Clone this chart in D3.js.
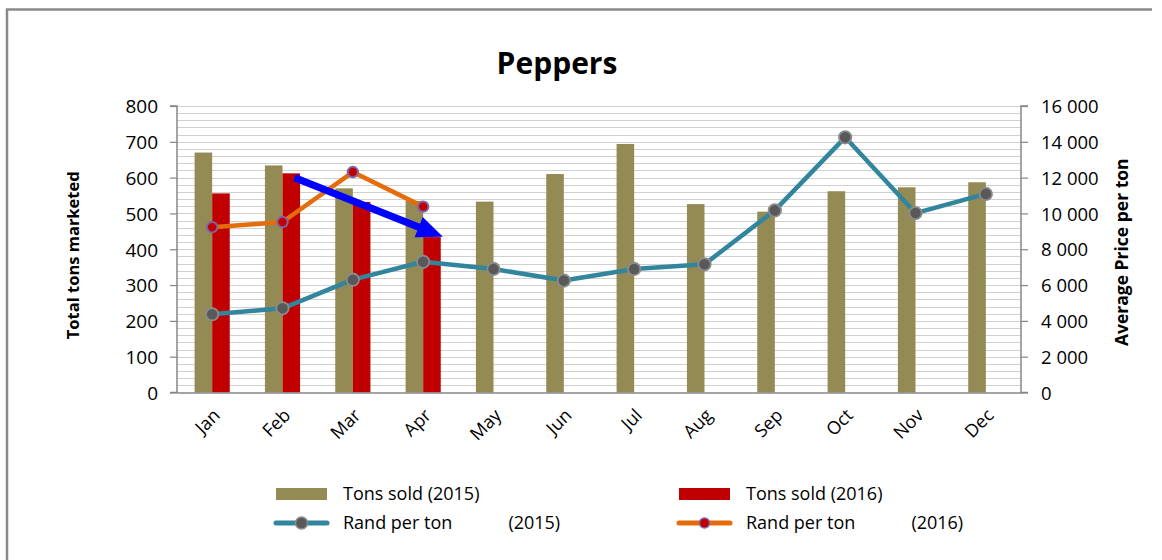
<!DOCTYPE html>
<html>
<head>
<meta charset="utf-8">
<script src="https://cdn.jsdelivr.net/npm/d3@7"></script>
<style>
  html, body { margin: 0; padding: 0; background: #fff; }
  svg text { font-family: "Open Sans", "Liberation Sans", sans-serif; fill: #000; }
</style>
</head>
<body>
<svg id="chart" width="1162" height="560"></svg>
<script>
// Monthly pepper sales and average price
const months = ["Jan", "Feb", "Mar", "Apr", "May", "Jun", "Jul", "Aug", "Sep", "Oct", "Nov", "Dec"];
const tons2015 = [670, 634, 570, 535, 533, 610, 694, 526, 505, 562, 573, 587];
const tons2016 = [556, 612, 532, 434];
const price2015 = [4370, 4700, 6300, 7300, 6900, 6250, 6900, 7160, 10170, 14250, 10020, 11090];
const price2016 = [9230, 9520, 12310, 10380];
const tonTicks = [0, 100, 200, 300, 400, 500, 600, 700, 800];
const priceTicks = [0, 2000, 4000, 6000, 8000, 10000, 12000, 14000, 16000];
const legendLabels = ["Tons sold (2015)", "Tons sold (2016)", "Rand per ton            (2015)", "Rand per ton            (2016)"];
// Trend arrow: [month index, offset within band, tons]
const trendFrom = [1, 0.17, 600];
const trendTo = [3, 0.28, 435];

const colors = {
  bar2015: "#948A54",
  bar2016: "#C00000",
  line2015: "#31859C",
  line2016: "#E46C0A",
  marker2015: "#595959",
  markerEdge2015: "#8C8C8C",
  marker2016: "#C00000",
  markerEdge2016: "#8064A2",
  axis: "#868686",
  grid: "#D0D0D0",
  arrow: "#0000FF"
};

const svg = d3.select("#chart");

// frame
svg.append("path")
  .attr("d", "M7,560 V9.5 H1152")
  .attr("fill", "none")
  .attr("stroke", "#8a8a8a")
  .attr("stroke-width", 2.5);

const plot = { left: 177, right: 1021, top: 106, bottom: 392.5 };

const x = d3.scaleBand()
  .domain(months)
  .range([plot.left, plot.right])
  .paddingInner(0.5)
  .paddingOuter(0.25);

const xSeries = d3.scaleBand()
  .domain(["2015", "2016"])
  .range([0, x.bandwidth()]);

const yTons = d3.scaleLinear().domain([0, 800]).range([plot.bottom, plot.top]);
const yPrice = d3.scaleLinear().domain([0, 16000]).range([plot.bottom, plot.top]);

const cx = m => x(m) + x.bandwidth() / 2;

// horizontal grid every 20 tons
svg.append("g")
  .selectAll("line")
  .data(d3.range(20, 801, 20))
  .join("line")
  .attr("x1", plot.left)
  .attr("x2", plot.right)
  .attr("y1", d => Math.round(yTons(d)) + 0.5)
  .attr("y2", d => Math.round(yTons(d)) + 0.5)
  .attr("stroke", colors.grid)
  .attr("stroke-width", 1.2);

// bars
svg.append("g")
  .selectAll("rect")
  .data(tons2015.map((v, i) => ({ m: months[i], v })))
  .join("rect")
  .attr("x", d => x(d.m) + xSeries("2015"))
  .attr("width", xSeries.bandwidth())
  .attr("y", d => yTons(d.v))
  .attr("height", d => plot.bottom - yTons(d.v))
  .attr("fill", colors.bar2015);

svg.append("g")
  .selectAll("rect")
  .data(tons2016.map((v, i) => ({ m: months[i], v })))
  .join("rect")
  .attr("x", d => x(d.m) + xSeries("2016"))
  .attr("width", xSeries.bandwidth())
  .attr("y", d => yTons(d.v))
  .attr("height", d => plot.bottom - yTons(d.v))
  .attr("fill", colors.bar2016);

// axes
const fmtSpace = v => d3.format(",")(v).replace(/,/g, " ");

const leftAxis = svg.append("g")
  .attr("transform", `translate(${plot.left},0)`)
  .call(d3.axisLeft(yTons).tickValues(tonTicks).tickSize(7).tickPadding(12));
const rightAxis = svg.append("g")
  .attr("transform", `translate(${plot.right},0)`)
  .call(d3.axisRight(yPrice).tickValues(priceTicks).tickSize(7).tickPadding(13).tickFormat(fmtSpace));
const bottomAxis = svg.append("g")
  .attr("transform", `translate(0,${plot.bottom})`)
  .call(d3.axisBottom(x).tickSize(0).tickPadding(0));

[leftAxis, rightAxis, bottomAxis].forEach(g => {
  g.selectAll("path.domain").attr("stroke", colors.axis).attr("stroke-width", 1.5);
  g.selectAll(".tick line").attr("stroke", colors.axis).attr("stroke-width", 1.2);
  g.selectAll("text").attr("font-family", "'Open Sans', sans-serif").attr("fill", "#1a1a1a");
});
leftAxis.selectAll("path.domain").attr("d", `M-7,${plot.top}H0V${plot.bottom}H-7`);
rightAxis.selectAll("path.domain").attr("d", `M7,${plot.top}H0V${plot.bottom}H7`);
leftAxis.selectAll("text").attr("font-size", 19).attr("dy", "0.36em");
rightAxis.selectAll("text").attr("font-size", 18.5).attr("dy", "0.36em");
bottomAxis.selectAll(".tick text")
  .attr("font-size", 18)
  .attr("text-anchor", "end")
  .attr("dy", 0)
  .attr("y", 0)
  .attr("transform", "translate(9,24) rotate(-45)");

// price lines
const line2015 = d3.line()
  .x((d, i) => cx(months[i]))
  .y(d => yPrice(d));

svg.append("path")
  .datum(price2015)
  .attr("d", line2015)
  .attr("fill", "none")
  .attr("stroke", colors.line2015)
  .attr("stroke-width", 4.5)
  .attr("stroke-linejoin", "round");

svg.append("g")
  .selectAll("circle")
  .data(price2015)
  .join("circle")
  .attr("cx", (d, i) => cx(months[i]))
  .attr("cy", d => yPrice(d))
  .attr("r", 6.2)
  .attr("fill", colors.marker2015)
  .attr("stroke", colors.markerEdge2015)
  .attr("stroke-width", 1.8);

svg.append("path")
  .datum(price2016)
  .attr("d", line2015)
  .attr("fill", "none")
  .attr("stroke", colors.line2016)
  .attr("stroke-width", 4.5)
  .attr("stroke-linejoin", "round");

svg.append("g")
  .selectAll("circle")
  .data(price2016)
  .join("circle")
  .attr("cx", (d, i) => cx(months[i]))
  .attr("cy", d => yPrice(d))
  .attr("r", 5.2)
  .attr("fill", colors.marker2016)
  .attr("stroke", colors.markerEdge2016)
  .attr("stroke-width", 2);

// trend arrow
(function drawArrow() {
  const x0 = x(months[trendFrom[0]]) + x.bandwidth() / 2 + trendFrom[1] * x.step();
  const y0 = yTons(trendFrom[2]);
  const x1 = x(months[trendTo[0]]) + x.bandwidth() / 2 + trendTo[1] * x.step();
  const y1 = yTons(trendTo[2]);
  const ang = Math.atan2(y1 - y0, x1 - x0);
  const headLen = 26, headHalf = 11, shaftHalf = 3.6;
  const len = Math.hypot(x1 - x0, y1 - y0);
  const pts = [
    [0, -shaftHalf], [len - headLen, -shaftHalf], [len - headLen, -headHalf],
    [len, 0],
    [len - headLen, headHalf], [len - headLen, shaftHalf], [0, shaftHalf]
  ];
  svg.append("polygon")
    .attr("points", pts.map(p => p.join(",")).join(" "))
    .attr("transform", `translate(${x0},${y0}) rotate(${ang * 180 / Math.PI})`)
    .attr("fill", colors.arrow);
})();

// titles
svg.append("text")
  .attr("x", 557)
  .attr("y", 74)
  .attr("text-anchor", "middle")
  .attr("font-size", 30)
  .attr("font-weight", "bold")
  .text("Peppers");

svg.append("text")
  .attr("transform", `translate(79,${(plot.top + plot.bottom) / 2 + 6}) rotate(-90)`)
  .attr("text-anchor", "middle")
  .attr("font-size", 16.5)
  .attr("font-weight", "bold")
  .text("Total tons marketed");

svg.append("text")
  .attr("transform", `translate(1128,${(plot.top + plot.bottom) / 2 + 3}) rotate(-90)`)
  .attr("text-anchor", "middle")
  .attr("font-size", 17.5)
  .attr("font-weight", "bold")
  .text("Average Price per ton");

// legend
const legend = svg.append("g").attr("font-size", 18);
const legendPos = [[276, 494], [679, 494], [276, 523], [679, 523]];
const swatchW = 51;

[0, 1].forEach(i => {
  legend.append("rect")
    .attr("x", legendPos[i][0])
    .attr("y", legendPos[i][1] - 6)
    .attr("width", swatchW)
    .attr("height", 12)
    .attr("fill", i === 0 ? colors.bar2015 : colors.bar2016);
});
[2, 3].forEach(i => {
  const [lx, ly] = legendPos[i];
  legend.append("line")
    .attr("x1", lx).attr("x2", lx + swatchW)
    .attr("y1", ly).attr("y2", ly)
    .attr("stroke", i === 2 ? colors.line2015 : colors.line2016)
    .attr("stroke-width", 5)
    .attr("stroke-linecap", "round");
  legend.append("circle")
    .attr("cx", lx + swatchW / 2)
    .attr("cy", ly)
    .attr("r", i === 2 ? 6 : 5)
    .attr("fill", i === 2 ? colors.marker2015 : colors.marker2016)
    .attr("stroke", i === 2 ? colors.markerEdge2015 : colors.markerEdge2016)
    .attr("stroke-width", 1.5);
});
legendLabels.forEach((t, i) => {
  legend.append("text")
    .attr("x", legendPos[i][0] + swatchW + 16)
    .attr("y", legendPos[i][1])
    .attr("dy", "0.35em")
    .style("white-space", "pre")
    .attr("fill", "#1a1a1a")
    .text(t);
});
</script>
</body>
</html>
